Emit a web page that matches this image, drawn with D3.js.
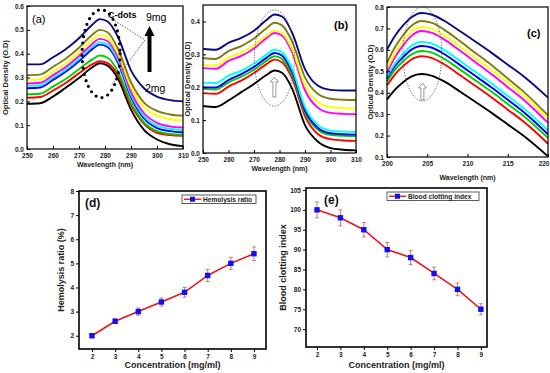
<!DOCTYPE html>
<html><head><meta charset="utf-8">
<script src="https://cdn.jsdelivr.net/npm/d3@7"></script>
<style>
body{margin:0;background:#fff;}
svg{display:block;}
text{font-family:"Liberation Sans",Arial,sans-serif;}
</style>
</head><body>
<svg id="c" width="550" height="373"></svg>
<script>
// ---------------- DATA ----------------
const seriesNames = ["black","red","green","blue","cyan","magenta","yellow","olive","navy"];
const seriesColors = ["#000000","#ff0000","#00d000","#0000ff","#00ffff","#ff00ff","#ffff00","#7f7d10","#0a0a80"];

// Panel (a)
const wlA = [250,255,260,265,270,275,278,281,285,290,295,300,305,310];
const a_navy    = [.355,.355,.385,.420,.465,.520,.545,.535,.470,.330,.255,.220,.205,.200];
const a_olive   = [.310,.312,.345,.380,.425,.478,.500,.490,.420,.280,.195,.160,.145,.140];
const a_yellow  = [.290,.292,.325,.360,.405,.455,.478,.468,.400,.260,.175,.140,.125,.120];
const a_magenta = [.275,.278,.310,.345,.390,.440,.462,.452,.385,.240,.150,.110,.095,.090];
const a_cyan    = [.265,.268,.300,.335,.378,.428,.448,.438,.372,.228,.138,.098,.085,.080];
const a_blue    = [.255,.258,.290,.325,.368,.418,.438,.428,.362,.218,.128,.088,.075,.070];
const a_green   = [.230,.232,.262,.295,.335,.375,.392,.383,.325,.195,.112,.075,.063,.060];
const a_red     = [.215,.218,.245,.278,.318,.355,.368,.360,.310,.185,.105,.068,.058,.055];
const a_black   = [.190,.192,.220,.258,.298,.342,.360,.350,.295,.165,.080,.040,.020,.012];

// Panel (b)
const wlB = [250,255,260,265,270,275,278,281,285,290,295,300,305,310];
const b_navy    = [.317,.314,.335,.350,.372,.405,.421,.415,.365,.255,.205,.192,.190,.190];
const b_olive   = [.289,.286,.310,.325,.348,.380,.396,.388,.338,.230,.180,.165,.162,.161];
const b_yellow  = [.268,.266,.290,.305,.327,.357,.372,.364,.315,.205,.155,.140,.137,.135];
const b_magenta = [.258,.256,.280,.295,.318,.350,.365,.357,.305,.190,.138,.122,.119,.118];
const b_cyan    = [.214,.213,.235,.250,.272,.300,.314,.306,.255,.140,.085,.068,.065,.064];
const b_blue    = [.200,.199,.222,.240,.262,.290,.304,.296,.245,.130,.077,.060,.057,.056];
const b_green   = [.195,.193,.215,.232,.253,.281,.294,.286,.236,.123,.071,.055,.052,.051];
const b_red     = [.182,.180,.202,.220,.243,.271,.284,.276,.226,.112,.058,.042,.038,.037];
const b_black   = [.143,.140,.160,.185,.210,.238,.251,.244,.195,.085,.035,.015,.010,.008];

// Panel (c)
const wlC = [200,201,202,203,204.3,205.5,207,209,211,213,215,217,220];
const c_navy    = [.601,.666,.714,.751,.772,.765,.738,.689,.638,.586,.531,.476,.377];
const c_olive   = [.539,.613,.668,.711,.735,.727,.697,.642,.585,.528,.466,.404,.294];
const c_yellow  = [.512,.586,.641,.684,.707,.699,.670,.617,.561,.506,.446,.386,.279];
const c_magenta = [.492,.566,.621,.664,.688,.680,.651,.598,.542,.486,.426,.366,.259];
const c_cyan    = [.476,.537,.582,.618,.637,.630,.602,.550,.497,.443,.385,.327,.224];
const c_blue    = [.466,.524,.566,.600,.618,.611,.583,.531,.478,.424,.367,.309,.206];
const c_green   = [.453,.507,.547,.578,.595,.588,.560,.510,.457,.404,.347,.290,.189];
const c_red     = [.434,.486,.524,.554,.570,.563,.535,.484,.431,.378,.321,.264,.162];
const c_black   = [.368,.414,.449,.475,.487,.480,.455,.407,.357,.306,.252,.198,.103];

// Panel (d)
const concentration = [2,3,4,5,6,7,8,9];
const hemolysis     = [2.0,2.6,3.0,3.4,3.8,4.5,5.0,5.4];
const hemolysisErr  = [0.05,0.1,0.15,0.17,0.2,0.25,0.25,0.28];

// Panel (e)
const clotting      = [100,98,95,90,88,84,80,75];
const clottingErr   = [2,2,1.8,1.8,1.8,1.6,1.6,1.4];

const ticksA_x = [250,260,270,280,290,300,310];
const ticksA_y = [0,0.1,0.2,0.3,0.4,0.5,0.6];
const ticksB_y = [0,0.1,0.2,0.3,0.4];
const ticksC_x = [200,205,210,215,220];
const ticksC_y = [0.1,0.2,0.3,0.4,0.5,0.6,0.7,0.8];
const ticksD_y = [2,3,4,5,6,7,8];
const ticksE_y = [70,75,80,85,90,95,100,105];

// ---------------- DRAW ----------------
const svg = d3.select("#c");
const FONT = '"Liberation Sans",Arial,sans-serif';

function spectral(cfg){
  const x = d3.scaleLinear().domain(cfg.xd).range([cfg.x0,cfg.x1]);
  const y = d3.scaleLinear().domain(cfg.yd).range([cfg.y1,cfg.y0]);
  const g = svg.append("g");
  const line = d3.line().curve(d3.curveMonotoneX).x(d=>x(d[0])).y(d=>y(d[1]));
  cfg.series.forEach((s,i)=>{
    g.append("path").attr("d", line(cfg.wl.map((w,k)=>[w,s[k]])))
      .attr("fill","none").attr("stroke",seriesColors[i]).attr("stroke-width",1.9);
  });
  g.append("rect").attr("x",cfg.x0).attr("y",cfg.y0).attr("width",cfg.x1-cfg.x0).attr("height",cfg.y1-cfg.y0)
    .attr("fill","none").attr("stroke","#000").attr("stroke-width",1.2);
  const ax = g.append("g").attr("transform",`translate(0,${cfg.y1})`)
    .call(d3.axisBottom(x).tickValues(cfg.xt).tickSize(-3).tickPadding(4).tickFormat(d3.format("d")));
  const ay = g.append("g").attr("transform",`translate(${cfg.x0},0)`)
    .call(d3.axisLeft(y).tickValues(cfg.yt).tickSize(-3).tickPadding(3).tickFormat(d3.format(".1f")));
  [ax,ay].forEach(a=>{
    a.select(".domain").remove();
    a.selectAll("line").attr("stroke","#000").attr("stroke-width",1);
    a.selectAll("text").attr("font-family",FONT).attr("font-size",6.5).attr("font-weight","bold").attr("fill","#222");
  });
  if (cfg.lastEnd) {
    ax.selectAll(".tick text").filter(d=>d===cfg.lastEnd)
      .attr("text-anchor","end").attr("dx",1);
  }
  g.append("text").attr("x",(cfg.x0+cfg.x1)/2).attr("y",cfg.xty).attr("text-anchor","middle")
    .attr("font-size",7).attr("font-weight","bold").attr("fill","#222").text("Wavelength (nm)");
  g.append("text").attr("transform",`translate(${cfg.ytx},${(cfg.y0+cfg.y1)/2}) rotate(-90)`)
    .attr("text-anchor","middle").attr("font-size",7.5).attr("font-weight","bold").attr("fill","#222").text("Optical Density (O.D)");
  return {x,y,g};
}

const A = spectral({x0:27,x1:183,y0:6,y1:149,xd:[250,310],yd:[0,0.6],wl:wlA,
  series:[a_black,a_red,a_green,a_blue,a_cyan,a_magenta,a_yellow,a_olive,a_navy],
  xt:ticksA_x,yt:ticksA_y,xty:167,ytx:8});
const B = spectral({x0:203,x1:356,y0:5,y1:153,xd:[250,310],yd:[0,0.45],wl:wlB,
  series:[b_black,b_red,b_green,b_blue,b_cyan,b_magenta,b_yellow,b_olive,b_navy],
  xt:ticksA_x,yt:ticksB_y,xty:171,ytx:190});
const C = spectral({x0:387,x1:548,y0:7,y1:157,xd:[200,220],yd:[0.1,0.8],wl:wlC,
  series:[c_black,c_red,c_green,c_blue,c_cyan,c_magenta,c_yellow,c_olive,c_navy],
  xt:ticksC_x,yt:ticksC_y,xty:180,ytx:373,lastEnd:220});

// annotations (a)
const ANN = "Open Sans, Liberation Sans";
A.g.append("ellipse").attr("cx",A.x(278.5)).attr("cy",A.y(0.4)).attr("rx",19).attr("ry",44)
  .attr("fill","none").attr("stroke","#000").attr("stroke-width",3.2)
  .attr("stroke-linecap","round").attr("stroke-dasharray","0 6.3");
A.g.append("text").attr("x",32).attr("y",23).attr("font-size",11).attr("font-family",ANN).text("(a)");
A.g.append("text").attr("x",108).attr("y",18).attr("font-size",9).attr("font-family",ANN).attr("font-weight","600").text("C-dots");
A.g.append("text").attr("x",146).attr("y",21).attr("font-size",10.5).attr("font-family",ANN).text("9mg");
A.g.append("text").attr("x",145).attr("y",92).attr("font-size",10.5).attr("font-family",ANN).text("2mg");
A.g.append("path").attr("d","M112,19 L145,40 L111,86").attr("fill","none").attr("stroke","#333")
  .attr("stroke-width",0.8).attr("stroke-dasharray","1.5 1.5");
A.g.append("line").attr("x1",149.5).attr("x2",149.5).attr("y1",72).attr("y2",35).attr("stroke","#000").attr("stroke-width",4);
A.g.append("path").attr("d","M144.5,36 L149.5,26 L154.5,36 Z").attr("fill","#000");

function hollowArrow(g,cx,top,bot){
  g.append("path").attr("d",`M${cx-1.5},${bot} L${cx-1.5},${top+5} L${cx-4},${top+5} L${cx},${top} L${cx+4},${top+5} L${cx+1.5},${top+5} L${cx+1.5},${bot} Z`)
    .attr("fill","#fff").attr("stroke","#555").attr("stroke-width",0.6);
}
// (b)
B.g.append("ellipse").attr("cx",B.x(278)).attr("cy",58).attr("rx",20).attr("ry",48)
  .attr("fill","none").attr("stroke","#444").attr("stroke-width",0.9).attr("stroke-dasharray","1.2 1.5");
hollowArrow(B.g,B.x(278),77,97);
B.g.append("text").attr("x",334).attr("y",29).attr("font-size",11).attr("font-weight","bold").attr("font-family","Liberation Sans Narrow, Liberation Sans").text("(b)");
// (c)
C.g.append("ellipse").attr("cx",C.x(204.4)).attr("cy",54).attr("rx",19.5).attr("ry",47)
  .attr("fill","none").attr("stroke","#444").attr("stroke-width",0.9).attr("stroke-dasharray","1.2 1.5");
hollowArrow(C.g,C.x(204.4),83,100);
C.g.append("text").attr("x",527).attr("y",37).attr("font-size",11).attr("font-weight","bold").attr("font-family","Liberation Sans Narrow, Liberation Sans").text("(c)");

// ---------- bottom panels ----------
function linePanel(cfg){
  const x = d3.scaleLinear().domain(cfg.xd).range([cfg.x0,cfg.x1]);
  const y = d3.scaleLinear().domain(cfg.yd).range([cfg.y1,cfg.y0]);
  const g = svg.append("g");
  g.append("rect").attr("x",cfg.x0).attr("y",cfg.y0).attr("width",cfg.x1-cfg.x0).attr("height",cfg.y1-cfg.y0)
    .attr("fill","none").attr("stroke","#000").attr("stroke-width",1.6);
  const ax = g.append("g").attr("transform",`translate(0,${cfg.y1})`)
    .call(d3.axisBottom(x).tickValues(concentration).tickSize(3).tickPadding(2).tickFormat(d3.format("d")));
  const ay = g.append("g").attr("transform",`translate(${cfg.x0},0)`)
    .call(d3.axisLeft(y).tickValues(cfg.yt).tickSize(3).tickPadding(2).tickFormat(d3.format("d")));
  [ax,ay].forEach(a=>{
    a.select(".domain").remove();
    a.selectAll("line").attr("stroke","#000").attr("stroke-width",1);
    a.selectAll("text").attr("font-family",FONT).attr("font-size",6.5).attr("font-weight","bold").attr("fill","#222");
  });
  cfg.vals.forEach((v,i)=>{
    const cx = x(concentration[i]), e = cfg.err[i];
    g.append("line").attr("x1",cx).attr("x2",cx).attr("y1",y(v-e)).attr("y2",y(v+e)).attr("stroke","#c07070").attr("stroke-width",0.9);
    [v-e,v+e].forEach(t=>g.append("line").attr("x1",cx-2).attr("x2",cx+2).attr("y1",y(t)).attr("y2",y(t)).attr("stroke","#c07070").attr("stroke-width",0.9));
  });
  g.append("path").attr("d",d3.line().x((d,i)=>x(concentration[i])).y(d=>y(d))(cfg.vals))
    .attr("fill","none").attr("stroke","#e8161b").attr("stroke-width",1.6);
  g.selectAll(".m").data(cfg.vals).enter().append("rect")
    .attr("x",(d,i)=>x(concentration[i])-2.7).attr("y",d=>y(d)-2.7).attr("width",5.4).attr("height",5.4).attr("fill","#1010f0");
  const L = cfg.leg;
  g.append("rect").attr("x",L.x).attr("y",L.y).attr("width",L.w).attr("height",8.5).attr("fill","#fff").attr("stroke","#333").attr("stroke-width",0.8);
  g.append("line").attr("x1",L.x+2).attr("x2",L.x+19).attr("y1",L.y+4.25).attr("y2",L.y+4.25).attr("stroke","#e8161b").attr("stroke-width",1.4);
  g.append("rect").attr("x",L.x+8).attr("y",L.y+1.75).attr("width",5).attr("height",5).attr("fill","#1010f0");
  g.append("text").attr("x",L.x+21).attr("y",L.y+6.8).attr("font-size",6.6).attr("font-weight","bold").attr("fill","#222").text(cfg.legText);
  g.append("text").attr("x",cfg.lab[0]).attr("y",cfg.lab[1]).attr("font-size",12).attr("font-weight","bold").attr("fill","#111").text(cfg.label);
  g.append("text").attr("x",(cfg.x0+cfg.x1)/2).attr("y",368).attr("text-anchor","middle")
    .attr("font-size",9).attr("font-weight","bold").attr("fill","#222").text("Concentration (mg/ml)");
  g.append("text").attr("transform",`translate(${cfg.ytx},${(cfg.y0+cfg.y1)/2}) rotate(-90)`)
    .attr("text-anchor","middle").attr("font-size",9).attr("font-weight","bold").attr("fill","#222").text(cfg.ytitle);
}
linePanel({x0:79,x1:266,y0:191,y1:349,xd:[1.44,9.52],yd:[1.45,8],yt:ticksD_y,vals:hemolysis,err:hemolysisErr,
  leg:{x:182,y:195,w:74},legText:"Hemolysis ratio",label:"(d)",lab:[85,207],ytitle:"Hemolysis ratio (%)",ytx:64});
linePanel({x0:306,x1:487,y0:188,y1:347,xd:[1.53,9.26],yd:[65.5,105.5],yt:ticksE_y,vals:clotting,err:clottingErr,
  leg:{x:387,y:192,w:92},legText:"Blood clotting index",label:"(e)",lab:[324,204],ytitle:"Blood clotting index",ytx:286});
</script>
</body></html>
